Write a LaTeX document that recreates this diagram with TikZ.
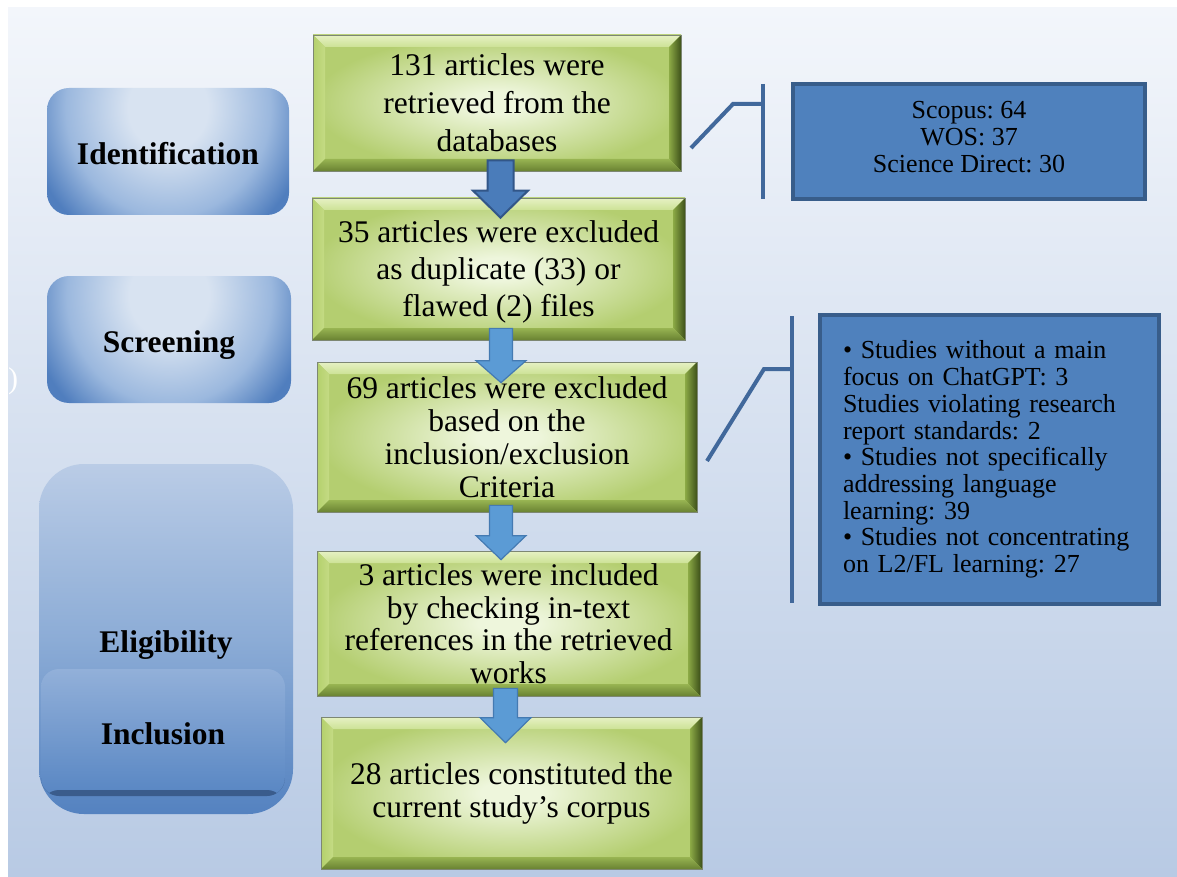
\documentclass[tikz,border=0pt]{standalone}
\usepackage{fontspec}
\setmainfont{Liberation Serif}
\frenchspacing
\usetikzlibrary{calc}
\definecolor{bgtop}{RGB}{243,246,251}
\definecolor{bgbot}{RGB}{184,202,228}
\definecolor{gin}{RGB}{238,246,220}
\definecolor{gout}{RGB}{180,206,112}
\definecolor{gtopA}{RGB}{230,241,196}
\definecolor{gtopB}{RGB}{205,226,150}
\definecolor{gleftA}{RGB}{180,208,108}
\definecolor{gleftB}{RGB}{196,219,132}
\definecolor{grightA}{RGB}{62,82,26}
\definecolor{grightB}{RGB}{140,170,70}
\definecolor{gbotA}{RGB}{105,130,50}
\definecolor{gbotB}{RGB}{152,180,82}
\definecolor{gborder}{RGB}{125,135,115}
\definecolor{lblin}{RGB}{216,227,241}
\definecolor{lblmid}{RGB}{155,184,222}
\definecolor{lblout}{RGB}{80,126,190}
\definecolor{eltop}{RGB}{186,204,230}
\definecolor{elmid}{RGB}{140,172,214}
\definecolor{elbot}{RGB}{84,130,192}
\definecolor{intop}{RGB}{146,176,217}
\definecolor{inbot}{RGB}{88,134,195}
\definecolor{inshadow}{RGB}{58,92,140}
\definecolor{bluefill}{RGB}{79,129,189}
\definecolor{blueline}{RGB}{56,93,138}
\definecolor{bracket}{RGB}{65,104,155}
\definecolor{arrAfill}{RGB}{74,124,186}
\definecolor{arrAline}{RGB}{50,86,136}
\definecolor{arrBfill}{RGB}{91,155,213}
\definecolor{arrBline}{RGB}{68,122,178}
\pgfdeclareradialshading{lblshade}{\pgfpoint{0bp}{0bp}}{color(0bp)=(lblin); color(7bp)=(lblin); color(18bp)=(lblmid); color(25bp)=(lblout); color(50bp)=(lblout)}
\pgfdeclareradialshading{gshade}{\pgfpoint{0bp}{0bp}}{color(0bp)=(gin); color(4bp)=(gin); color(25bp)=(gout); color(50bp)=(gout)}
\newcommand{\blockarrow}[6]{%
  \path #2 coordinate (bas) #3 coordinate (bat);
  \filldraw[#1] let \p1=(bas), \p2=(bat) in
    (\x2-#4pt,\y1) -- (\x2+#4pt,\y1) -- (\x2+#4pt,\y2+#6pt) -- (\x2+#5pt,\y2+#6pt)
    -- (\x2,\y2) -- (\x2-#5pt,\y2+#6pt) -- (\x2-#4pt,\y2+#6pt) -- cycle;
}
\begin{document}
\begin{tikzpicture}[x=1pt,y=-1pt,
  greenbox/.style={draw=gborder, line width=0.7pt, align=center, inner sep=0pt,
    font=\fontsize{31.5}{#1}\selectfont,
    path picture={
      \path (path picture bounding box.south west) coordinate (pSW)
            (path picture bounding box.north east) coordinate (pNE)
            (path picture bounding box.north west) coordinate (pNW)
            (path picture bounding box.south east) coordinate (pSE);
      \shade[shading=gshade] (pSW) rectangle (pNE);
      \shade[top color=gtopA, bottom color=gtopB] (pNW) -- (pNE) -- ($(pNE)+(-12pt,-12pt)$) -- ($(pNW)+(12pt,-12pt)$) -- cycle;
      \shade[left color=gleftA, right color=gleftB] (pNW) -- ($(pNW)+(12pt,-12pt)$) -- ($(pSW)+(12pt,12pt)$) -- (pSW) -- cycle;
      \shade[left color=grightB, right color=grightA] (pNE) -- (pSE) -- ($(pSE)+(-12pt,12pt)$) -- ($(pNE)+(-12pt,-12pt)$) -- cycle;
      \shade[top color=gbotB, bottom color=gbotA] (pSW) -- ($(pSW)+(12pt,12pt)$) -- ($(pSE)+(-12pt,12pt)$) -- (pSE) -- cycle;
    }},
  lbl/.style={rounded corners=22pt, inner sep=0pt, text height=26pt, text depth=0pt,
    font=\bfseries\fontsize{31.5}{36}\selectfont,
    path picture={
      \shade[shading=lblshade] ($(path picture bounding box.north)+(-142pt,-170pt)$)
        rectangle ($(path picture bounding box.north)+(142pt,130pt)$);
    }},
  bluebox/.style={fill=bluefill, draw=blueline, line width=4pt, inner sep=0pt},
  brk/.style={draw=bracket, line width=4pt},
  arrA/.style={fill=arrAfill, draw=arrAline, line width=2pt, line join=miter},
  arrB/.style={fill=arrBfill, draw=arrBline, line width=1.2pt, line join=miter}
]
\useasboundingbox (0,0) rectangle (1177,877);
\shade[top color=bgtop, bottom color=bgbot] (8,8) rectangle (1177,877);

% stage labels
\node[lbl, minimum width=242pt, minimum height=127pt] (ident) at (168,151.5) {Identification};
\node[lbl, minimum width=244pt, minimum height=127pt] (screen) at (169,339.5) {Screening};
\node[top color=eltop, bottom color=elbot, middle color=elmid, rounded corners=45pt, inner sep=0pt,
      minimum width=254pt, minimum height=350pt, text height=26pt, text depth=0pt,
      font=\bfseries\fontsize{31.5}{36}\selectfont] (elig) at (166,639) {Eligibility};
\node[top color=intop, bottom color=inbot, rounded corners=18pt, inner sep=0pt,
      minimum width=244pt, minimum height=127pt, text height=24pt, text depth=0pt,
      font=\bfseries\fontsize{31.5}{36}\selectfont,
      path picture={\fill[inshadow] ($(path picture bounding box.south west)+(0pt,6pt)$) rectangle (path picture bounding box.south east);}] (incl) at (163,732.5) {Inclusion};
\node[text=white, font=\fontsize{30}{30}\selectfont, inner sep=0pt] (paren) at (13,381) {)};

% flow boxes
\node[greenbox=38, minimum width=368pt, minimum height=136pt] (b1) at (497,103) {131 articles were\\retrieved from the\\databases};
\node[greenbox=37, minimum width=373pt, minimum height=142pt, text depth=0pt] (b2) at (498.5,269) {35 articles were excluded\\as duplicate (33) or\\flawed (2) files};
\node[greenbox=33, minimum width=380pt, minimum height=150pt] (b3) at (507,437) {69 articles were excluded\\based on the\\inclusion/exclusion\\Criteria};
\node[greenbox=32.5, minimum width=383pt, minimum height=145pt] (b4) at (508.5,623.5) {3 articles were included\\by checking in-text\\references in the retrieved\\works};
\node[greenbox=33, minimum width=381pt, minimum height=152pt] (b5) at (511.5,793) {28 articles constituted the\\current study’s corpus};

% side boxes
\node[bluebox, align=center, minimum width=352pt, minimum height=115pt, text depth=10pt,
      font=\fontsize{26}{27}\selectfont] (srcs) at (969,141.5) {Scopus: 64\\WOS: 37\\Science Direct: 30};
\node[bluebox, align=left, text width=293pt, minimum width=339pt, minimum height=289pt,
      font=\fontsize{26}{26.7}\selectfont] (crit) at (989.5,459.5)
  {\textbullet{} Studies without a main\\focus on ChatGPT: 3\\Studies violating research\\report standards: 2\\\textbullet{} Studies not specifically\\addressing language\\learning: 39\\\textbullet{} Studies not concentrating\\on L2/FL learning: 27};

% brackets
\coordinate (k1d) at (691,148);
\coordinate (k1e) at (733,104);
\coordinate (k1h) at (763,104);
\coordinate (k1t) at (763,84);
\coordinate (k1b) at (763,199);
\draw[brk] (k1d) -- (k1e) -- (k1h);
\draw[brk] (k1t) -- (k1b);
\coordinate (k2d) at (707,461);
\coordinate (k2e) at (764,369);
\coordinate (k2h) at (792,369);
\coordinate (k2t) at (792,316);
\coordinate (k2b) at (792,603);
\draw[brk] (k2d) -- (k2e) -- (k2h);
\draw[brk] (k2t) -- (k2b);

% block arrows
\blockarrow{arrA}{($(b1.south)+(3,-11)$)}{($(b2.north)+(2,20)$)}{13}{27.5}{27}
\blockarrow{arrB}{($(b2.south)+(3,-12)$)}{($(b3.north)+(-6,21)$)}{11.5}{25}{22}
\blockarrow{arrB}{($(b3.south)+(-6,-7)$)}{($(b4.north)+(-7.5,9)$)}{11.5}{25}{24}
\blockarrow{arrB}{($(b4.south)+(-3.5,-8)$)}{($(b5.north)+(-6,26)$)}{12}{25.5}{25}
\end{tikzpicture}
\end{document}
